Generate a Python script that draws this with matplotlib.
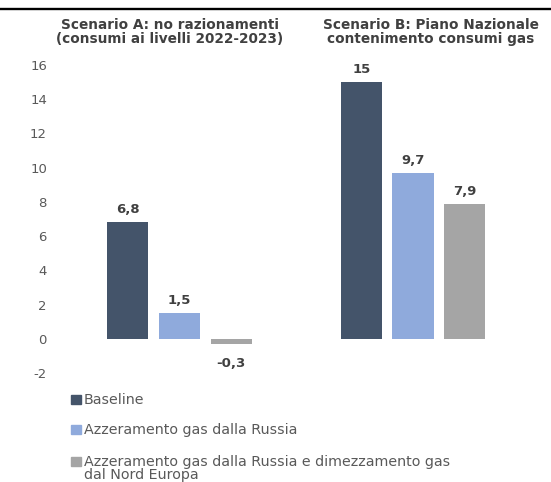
import matplotlib
matplotlib.use("Agg")
import matplotlib.pyplot as plt
from matplotlib.lines import Line2D
from matplotlib.patches import Rectangle
import numpy as np

# the reference type is a wide sans; DejaVu Sans is closest in width
plt.rcParams['font.family'] = ['DejaVu Sans']

scenarios = ["Scenario A: no razionamenti\n(consumi ai livelli 2022-2023)",
             "Scenario B: Piano Nazionale\ncontenimento consumi gas"]
series = ["Baseline",
          "Azzeramento gas dalla Russia",
          "Azzeramento gas dalla Russia e dimezzamento gas\ndal Nord Europa"]
baseline = [6.8, 15]
russia = [1.5, 9.7]
russia_nord = [-0.3, 7.9]
colors = ["#44546A", "#8FAADC", "#A5A5A5"]
yticks = [-2, 0, 2, 4, 6, 8, 10, 12, 14, 16]

W, H = 551, 482
fig = plt.figure(figsize=(W / 100, H / 100), dpi=100)

# axes placed in pixel terms: value -2 at y=373, 16 at y=65
ax = fig.add_axes([50 / W, 1 - 373 / H, 495 / W, (373 - 65) / H])

x = np.arange(len(scenarios))
width = 0.1756
step = 0.2206
values = [baseline, russia, russia_nord]
for i, (vals, col) in enumerate(zip(values, colors)):
    bars = ax.bar(x + (i - 1) * step, vals, width, color=col, label=series[i])
    for b, v in zip(bars, vals):
        txt = f"{v:g}".replace(".", ",")
        off = 6.5 if v >= 0 else -16.5
        ax.annotate(txt, (b.get_x() + b.get_width() / 2, v), xytext=(0, off),
                    textcoords="offset points", ha="center", va="baseline",
                    fontsize=9.5, fontweight="bold", color="#404040")

ax.set_xlim(-(179.5 - 50) / 233.5, (545 - 179.5) / 233.5)
ax.set_ylim(-2, 16)
ax.set_yticks(yticks)
ax.set_yticklabels([str(t) for t in yticks], fontsize=9.5, color="#595959")
ax.tick_params(axis="y", length=0, pad=2.2)
ax.set_xticks([])
for s in ax.spines.values():
    s.set_visible(False)

# scenario headers
for cx, title in zip([170, 431], scenarios):
    fig.text(cx / W, 1 - 18 / H, title, ha="center", va="top", fontsize=9.8,
             fontweight="bold", color="#404040", linespacing=1.0)

# top rule
fig.add_artist(Line2D([0, 1], [1 - 9 / H, 1 - 9 / H], color="black", lw=1.7,
                      transform=fig.transFigure))

# legend
rows = [399, 429, 461]
for lab, col, ry in zip(series, colors, rows):
    fig.add_artist(Rectangle((71 / W, 1 - (ry + 4.5) / H), 9.5 / W, 9 / H,
                             color=col, transform=fig.transFigure))
    fig.text(84 / W, 1 - (ry - 6) / H, lab, ha="left", va="top", fontsize=10.3,
             color="#595959", linespacing=0.95)

fig.savefig("out.png", dpi=100)
